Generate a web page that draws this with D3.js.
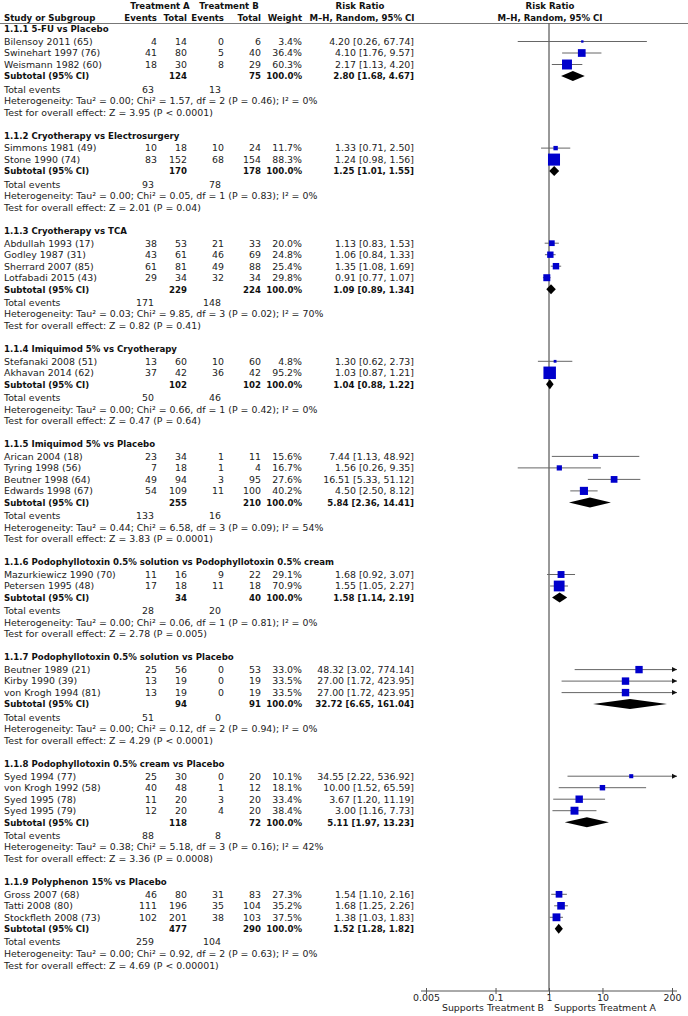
<!DOCTYPE html>
<html><head><meta charset="utf-8">
<script src="https://cdn.jsdelivr.net/npm/d3@7"></script>
<style>
body{margin:0;background:#fff}
svg{display:block}
text{font-family:"DejaVu Sans",Verdana,sans-serif;font-size:9.4px;fill:#222}
.b{font-weight:bold;fill:#111;font-size:8.6px}
</style>
</head><body><svg id="c" width="688" height="1016"></svg>
<script>
// ---------- DATA ----------
const subgroupTitles = [
  "1.1.1 5-FU vs Placebo",
  "1.1.2 Cryotherapy vs Electrosurgery",
  "1.1.3 Cryotherapy vs TCA",
  "1.1.4 Imiquimod 5% vs Cryotherapy",
  "1.1.5 Imiquimod 5% vs Placebo",
  "1.1.6 Podophyllotoxin 0.5% solution vs Podophyllotoxin 0.5% cream",
  "1.1.7 Podophyllotoxin 0.5% solution vs Placebo",
  "1.1.8 Podophyllotoxin 0.5% cream vs Placebo",
  "1.1.9 Polyphenon 15% vs Placebo"
];
const studyNames = [
  "Bilensoy 2011 (65)","Swinehart 1997 (76)","Weismann 1982 (60)",
  "Simmons 1981 (49)","Stone 1990 (74)",
  "Abdullah 1993 (17)","Godley 1987 (31)","Sherrard 2007 (85)","Lotfabadi 2015 (43)",
  "Stefanaki 2008 (51)","Akhavan 2014 (62)",
  "Arican 2004 (18)","Tyring 1998 (56)","Beutner 1998 (64)","Edwards 1998 (67)",
  "Mazurkiewicz 1990 (70)","Petersen 1995 (48)",
  "Beutner 1989 (21)","Kirby 1990 (39)","von Krogh 1994 (81)",
  "Syed 1994 (77)","von Krogh 1992 (58)","Syed 1995 (78)","Syed 1995 (79)",
  "Gross 2007 (68)","Tatti 2008 (80)","Stockfleth 2008 (73)"
];
const studyGroup = [0,0,0, 1,1, 2,2,2,2, 3,3, 4,4,4,4, 5,5, 6,6,6, 7,7,7,7, 8,8,8];
const eventsA = [4,41,18, 10,83, 38,43,61,29, 13,37, 23,7,49,54, 11,17, 25,13,13, 25,40,11,12, 46,111,102];
const totalA  = [14,80,30, 18,152, 53,61,81,34, 60,42, 34,18,94,109, 16,18, 56,19,19, 30,48,20,20, 80,196,201];
const eventsB = [0,5,8, 10,68, 21,46,49,32, 10,36, 1,1,3,11, 9,11, 0,0,0, 0,1,3,4, 31,35,38];
const totalB  = [6,40,29, 24,154, 33,69,88,34, 60,42, 11,4,95,100, 22,18, 53,19,19, 20,12,20,20, 83,104,103];
const weights = [3.4,36.4,60.3, 11.7,88.3, 20.0,24.8,25.4,29.8, 4.8,95.2, 15.6,16.7,27.6,40.2, 29.1,70.9, 33.0,33.5,33.5, 10.1,18.1,33.4,38.4, 27.3,35.2,37.5];
const rr      = [4.20,4.10,2.17, 1.33,1.24, 1.13,1.06,1.35,0.91, 1.30,1.03, 7.44,1.56,16.51,4.50, 1.68,1.55, 48.32,27.00,27.00, 34.55,10.00,3.67,3.00, 1.54,1.68,1.38];
const rrLow   = [0.26,1.76,1.13, 0.71,0.98, 0.83,0.84,1.08,0.77, 0.62,0.87, 1.13,0.26,5.33,2.50, 0.92,1.05, 3.02,1.72,1.72, 2.22,1.52,1.20,1.16, 1.10,1.25,1.03];
const rrHigh  = [67.74,9.57,4.20, 2.50,1.56, 1.53,1.33,1.69,1.07, 2.73,1.21, 48.92,9.35,51.12,8.12, 3.07,2.27, 774.14,423.95,423.95, 536.92,65.59,11.19,7.73, 2.16,2.26,1.83];

const subTotalA = [124,170,229,102,255,34,94,118,477];
const subTotalB = [75,178,224,102,210,40,91,72,290];
const subRR     = [2.80,1.25,1.09,1.04,5.84,1.58,32.72,5.11,1.52];
const subLow    = [1.68,1.01,0.89,0.88,2.36,1.14,6.65,1.97,1.28];
const subHigh   = [4.67,1.55,1.34,1.22,14.41,2.19,161.04,13.23,1.82];
const totEventsA = [63,93,171,50,133,28,51,88,259];
const totEventsB = [13,78,148,46,16,20,0,8,104];
const tau2 = ["0.00","0.00","0.03","0.00","0.44","0.00","0.00","0.38","0.00"];
const chi2 = ["1.57","0.05","9.85","0.66","6.58","0.06","0.12","5.18","0.92"];
const dfs  = [2,1,3,1,3,1,2,3,2];
const hetP = ["0.46","0.83","0.02","0.42","0.09","0.81","0.94","0.16","0.63"];
const i2   = ["0%","0%","70%","0%","54%","0%","0%","42%","0%"];
const zVal = ["3.95","2.01","0.82","0.47","3.83","2.78","4.29","3.36","4.69"];
const zP   = ["P < 0.0001","P = 0.04","P = 0.41","P = 0.64","P = 0.0001","P = 0.005","P < 0.0001","P = 0.0008","P < 0.00001"];

const tickValues = [0.005,0.1,1,10,200];
const tickLabels = ["0.005","0.1","1","10","200"];

// ---------- LAYOUT ----------
const svg = d3.select("#c");
const W = 688;
const col = {name:4, evA:157, totA:187, evB:224, totB:261, w:302, rr:414};
const fmt2 = d3.format(".2f");
const x = d3.scaleLog().domain([tickValues[0], tickValues[tickValues.length-1]]).range([426,672]);
const xEdge = 677;
const axisY = 991;

const studyY = [], subY = [], headY = [], totY = [], hetY = [], testY = [];
let cur = 29;
subgroupTitles.forEach((t,g)=>{
  headY[g] = cur;
  const idx = studyGroup.map((s,i)=>s===g?i:-1).filter(i=>i>=0);
  idx.forEach((i,k)=>{ studyY[i] = cur + 12.5 + k*11.5; });
  subY[g] = cur + 12.5 + idx.length*11.5;
  totY[g] = subY[g] + 13.3;
  hetY[g] = totY[g] + 11.6;
  testY[g] = hetY[g] + 11.6;
  cur = testY[g] + 23.1;
});
const base = 3.3;

function txt(sel, xx, y, s, anchor, cls){
  sel.append("text").attr("x",xx).attr("y",y+base).attr("text-anchor",anchor||"start")
    .attr("class",cls||null).text(s);
}

// Header
const hd = svg.append("g");
txt(hd,160,6,"Treatment A","middle","b");
txt(hd,229,6,"Treatment B","middle","b");
txt(hd,360,6,"Risk Ratio","middle","b");
txt(hd,550,6,"Risk Ratio","middle","b");
txt(hd,col.name,17.5,"Study or Subgroup","start","b");
txt(hd,col.evA,17.5,"Events","end","b");
txt(hd,col.totA,17.5,"Total","end","b");
txt(hd,col.evB,17.5,"Events","end","b");
txt(hd,col.totB,17.5,"Total","end","b");
txt(hd,col.w,17.5,"Weight","end","b");
txt(hd,362,17.5,"M–H, Random, 95% CI","middle","b");
txt(hd,550,17.5,"M–H, Random, 95% CI","middle","b");
hd.append("line").attr("x1",0).attr("x2",W).attr("y1",23.5).attr("y2",23.5)
  .attr("stroke","#777").attr("stroke-width",1);

// null line
svg.append("line").attr("x1",x(1)).attr("x2",x(1)).attr("y1",23.5).attr("y2",axisY)
  .attr("stroke","#333").attr("stroke-width",1);

// Subgroup headers
svg.append("g").selectAll("text").data(subgroupTitles).join("text")
  .attr("class","b").attr("x",col.name).attr("y",(d,g)=>headY[g]+base).text(d=>d);

// Study rows text
const st = svg.append("g").selectAll("g").data(studyNames.map((n,i)=>i)).join("g");
st.append("text").attr("x",col.name).attr("y",i=>studyY[i]+base).text(i=>studyNames[i]);
st.append("text").attr("x",col.evA).attr("text-anchor","end").attr("y",i=>studyY[i]+base).text(i=>eventsA[i]);
st.append("text").attr("x",col.totA).attr("text-anchor","end").attr("y",i=>studyY[i]+base).text(i=>totalA[i]);
st.append("text").attr("x",col.evB).attr("text-anchor","end").attr("y",i=>studyY[i]+base).text(i=>eventsB[i]);
st.append("text").attr("x",col.totB).attr("text-anchor","end").attr("y",i=>studyY[i]+base).text(i=>totalB[i]);
st.append("text").attr("x",col.w).attr("text-anchor","end").attr("y",i=>studyY[i]+base).text(i=>weights[i].toFixed(1)+"%");
st.append("text").attr("x",col.rr).attr("text-anchor","end").attr("y",i=>studyY[i]+base)
  .text(i=>`${fmt2(rr[i])} [${fmt2(rrLow[i])}, ${fmt2(rrHigh[i])}]`);

// Subtotal rows
const sb = svg.append("g").selectAll("g").data(subgroupTitles.map((t,g)=>g)).join("g");
sb.append("text").attr("class","b").attr("x",col.name).attr("y",g=>subY[g]+base).text("Subtotal (95% CI)");
sb.append("text").attr("class","b").attr("x",col.totA).attr("text-anchor","end").attr("y",g=>subY[g]+base).text(g=>subTotalA[g]);
sb.append("text").attr("class","b").attr("x",col.totB).attr("text-anchor","end").attr("y",g=>subY[g]+base).text(g=>subTotalB[g]);
sb.append("text").attr("class","b").attr("x",col.w).attr("text-anchor","end").attr("y",g=>subY[g]+base).text("100.0%");
sb.append("text").attr("class","b").attr("x",col.rr).attr("text-anchor","end").attr("y",g=>subY[g]+base)
  .text(g=>`${fmt2(subRR[g])} [${fmt2(subLow[g])}, ${fmt2(subHigh[g])}]`);
sb.append("text").attr("x",col.name).attr("y",g=>totY[g]+base).text("Total events");
sb.append("text").attr("x",col.evA-3).attr("text-anchor","end").attr("y",g=>totY[g]+base).text(g=>totEventsA[g]);
sb.append("text").attr("x",col.evB-3).attr("text-anchor","end").attr("y",g=>totY[g]+base).text(g=>totEventsB[g]);
sb.append("text").attr("x",col.name).attr("y",g=>hetY[g]+base)
  .text(g=>`Heterogeneity: Tau² = ${tau2[g]}; Chi² = ${chi2[g]}, df = ${dfs[g]} (P = ${hetP[g]}); I² = ${i2[g]}`);
sb.append("text").attr("x",col.name).attr("y",g=>testY[g]+base)
  .text(g=>`Test for overall effect: Z = ${zVal[g]} (${zP[g]})`);

// Forest marks
const boxSide = w => Math.max(2.2, 1.28*Math.sqrt(w));
const clampX = v => Math.min(xEdge, Math.max(x.range()[0]-5, x(v)));
const fm = svg.append("g");
const ci = fm.selectAll("g.ci").data(studyNames.map((n,i)=>i)).join("g").attr("class","ci");
ci.append("line").attr("x1",i=>clampX(rrLow[i])).attr("x2",i=>clampX(rrHigh[i]))
  .attr("y1",i=>studyY[i]).attr("y2",i=>studyY[i]).attr("stroke","#666").attr("stroke-width",1);
ci.filter(i=>rrHigh[i]>tickValues[tickValues.length-1]).append("path")
  .attr("d",i=>`M${xEdge},${studyY[i]} l-5,-2.5 l0,5 z`).attr("fill","#111");
ci.append("rect")
  .attr("x",i=>x(rr[i]) - boxSide(weights[i])/2)
  .attr("y",i=>studyY[i] - boxSide(weights[i])/2)
  .attr("width",i=>boxSide(weights[i]))
  .attr("height",i=>boxSide(weights[i]))
  .attr("fill","#0000cc");
fm.selectAll("path.dia").data(subgroupTitles.map((t,g)=>g)).join("path").attr("class","dia")
  .attr("d",g=>`M${x(subLow[g])},${subY[g]} L${x(subRR[g])},${subY[g]-5} L${x(subHigh[g])},${subY[g]} L${x(subRR[g])},${subY[g]+5} Z`)
  .attr("fill","#000");

// Axis
const ax = svg.append("g").attr("transform",`translate(0,${axisY})`);
ax.append("line").attr("x1",x.range()[0]-5).attr("x2",xEdge).attr("y1",0).attr("y2",0).attr("stroke","#555");
const axis = d3.axisBottom(x).tickValues(tickValues).tickFormat((d,i)=>tickLabels[i]).tickSize(3).tickPadding(2);
ax.call(axis);
ax.select(".domain").remove();
ax.selectAll(".tick line").attr("y1",-3).attr("y2",3).attr("stroke","#555");
ax.selectAll(".tick text").attr("font-family","DejaVu Sans").attr("font-size","9.4px").attr("fill","#444").attr("dy","0.55em");
txt(svg,x(1)-5,1008,"Supports Treatment B","end");
txt(svg,x(1)+5,1008,"Supports Treatment A","start");
</script>
</body></html>
